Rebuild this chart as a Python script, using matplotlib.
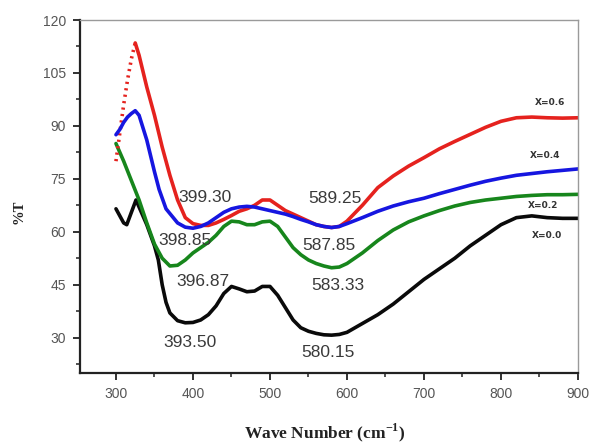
import matplotlib
matplotlib.use("Agg")
import matplotlib.pyplot as plt
from matplotlib.ticker import MultipleLocator

# ---- data ----
red_x = [300, 305, 310, 315, 320, 325, 330, 340, 350, 360, 370, 380, 390, 400, 410, 420, 430, 440, 450,
         460, 470, 480, 490, 500, 510, 520, 530, 540, 550, 560, 570, 580, 590, 600, 620, 640, 660, 680,
         700, 720, 740, 760, 780, 800, 820, 840, 860, 880, 900]
red_y = [80, 88, 96, 103, 109, 113.5, 110, 101, 93, 84, 76, 69, 64, 62.3, 61.8, 61.8, 62.5, 63.5, 64.6,
         65.8, 66.5, 67.5, 69, 69, 67.5, 66, 65, 64, 63, 62, 61.5, 61.2, 61.5, 63, 67.5, 72.5, 75.8, 78.6,
         81, 83.5, 85.6, 87.6, 89.6, 91.3, 92.3, 92.5, 92.3, 92.2, 92.3]

blue_x = [300, 305, 310, 315, 320, 325, 330, 340, 350, 356, 365, 380, 390, 400, 410, 420, 430, 440, 450,
          460, 470, 480, 490, 500, 510, 520, 530, 540, 550, 560, 570, 580, 590, 600, 620, 640, 660, 680,
          700, 720, 740, 760, 780, 800, 820, 840, 860, 880, 900]
blue_y = [87.5, 89, 91, 92.5, 93.5, 94.3, 93, 86, 77, 72, 66.5, 62.5, 61.3, 61, 61.5, 62.5, 64, 65.5, 66.5,
          67, 67.2, 67, 66.5, 66, 65.5, 65, 64.3, 63.5, 62.8, 62, 61.5, 61.2, 61.5, 62.3, 64, 65.8, 67.3,
          68.5, 69.5, 70.8, 72, 73.2, 74.3, 75.2, 76, 76.5, 77, 77.4, 77.8]

green_x = [300, 310, 320, 330, 340, 350, 360, 370, 380, 390, 400, 410, 420, 430, 440, 450, 460, 470, 480,
           490, 500, 510, 520, 530, 540, 550, 560, 570, 580, 590, 600, 620, 640, 660, 680, 700, 720, 740,
           760, 780, 800, 820, 840, 860, 880, 900]
green_y = [85, 80, 74.5, 69, 62.5, 56.5, 52.5, 50.3, 50.5, 52, 54, 55.5, 57, 59, 61.5, 63, 62.8, 62, 62,
           62.8, 63, 61.5, 58.5, 55.5, 53.5, 52, 51, 50.3, 49.8, 50, 51, 54, 57.5, 60.5, 62.8, 64.5, 66,
           67.3, 68.3, 69, 69.5, 70, 70.3, 70.5, 70.5, 70.6]

black_x = [300, 305, 310, 314, 320, 326, 330, 340, 350, 355, 360, 365, 370, 380, 390, 400, 410, 420, 430,
           440, 450, 460, 470, 480, 490, 500, 510, 520, 530, 540, 550, 560, 570, 580, 590, 600, 620, 640,
           660, 680, 700, 720, 740, 760, 780, 800, 820, 840, 860, 880, 900]
black_y = [66.5, 64.5, 62.5, 62, 65.5, 69, 67, 62, 56, 52, 45, 40, 37, 34.8, 34.2, 34.3, 35, 36.5, 39,
           42.5, 44.5, 43.8, 43, 43.2, 44.5, 44.5, 42, 38.5, 35, 32.8, 31.8, 31.2, 30.8, 30.7, 30.9, 31.5,
           34, 36.5, 39.5, 43, 46.5, 49.5, 52.5, 56, 59, 62, 64, 64.5, 64, 63.8, 63.8]

series_labels = ["X=0.0", "X=0.2", "X=0.4", "X=0.6"]
label_pos = [(860, 59), (855, 67.4), (857, 81.5), (864, 96.6)]

peak_texts = ["399.30", "398.85", "396.87", "393.50", "589.25", "587.85", "583.33", "580.15"]
peak_pos = [(415, 69.6), (390, 57.5), (413, 46), (396, 28.5),
            (585, 69.3), (577, 56.1), (588, 44.9), (575, 25.7)]

xticks = [300, 400, 500, 600, 700, 800, 900]
yticks = [30, 45, 60, 75, 90, 105, 120]

# ---- plot ----
fig = plt.figure(figsize=(5.91, 4.45), dpi=100)
ax = fig.add_axes([0.135, 0.162, 0.843, 0.793])

RED, BLUE, GREEN, BLACK = "#e5221e", "#1616e0", "#17861c", "#0a0a0a"
lw = 2.6
ax.plot(black_x, black_y, color=BLACK, lw=lw, solid_capstyle="round")
ax.plot(green_x, green_y, color=GREEN, lw=lw, solid_capstyle="round")
ax.plot(red_x[:6], red_y[:6], color=RED, lw=lw, linestyle=(0, (0.6, 1.2)))
ax.plot(red_x[5:], red_y[5:], color=RED, lw=lw, solid_capstyle="round")
ax.plot(blue_x, blue_y, color=BLUE, lw=lw, solid_capstyle="round")

for (px, py), t in zip(peak_pos, peak_texts):
    ax.text(px, py, t, ha="center", va="center", fontsize=12.5, color="#3a3a3a",
            family="Liberation Sans")

for (px, py), t in zip(label_pos, series_labels):
    ax.text(px, py, t, ha="center", va="center", fontsize=6.5, color="#333333",
            fontweight="bold", family="DejaVu Sans")

ax.set_xlim(253, 900)
ax.set_ylim(20, 120)
ax.set_xticks(xticks)
ax.set_yticks(yticks)
ax.xaxis.set_minor_locator(MultipleLocator(50))
ax.yaxis.set_minor_locator(MultipleLocator(7.5))
ax.tick_params(which="major", direction="out", length=5, width=1.3, color="#222222",
               labelsize=10, labelcolor="#555555", pad=5)
ax.tick_params(which="minor", direction="out", length=3, width=1.1, color="#222222")
ax.tick_params(top=False, right=False, which="both")
for lab in ax.get_xticklabels() + ax.get_yticklabels():
    lab.set_family("Liberation Sans")

ax.spines["left"].set_linewidth(1.6)
ax.spines["bottom"].set_linewidth(1.6)
ax.spines["left"].set_color("#222222")
ax.spines["bottom"].set_color("#222222")
ax.spines["top"].set_color("#9a9a9a")
ax.spines["right"].set_color("#9a9a9a")
ax.spines["top"].set_linewidth(1.0)
ax.spines["right"].set_linewidth(1.0)

fig.text(0.55, 0.027, "Wave Number (cm$^{\\mathregular{-1}}$)", ha="center", va="center",
         fontsize=12.5, fontweight="bold", family="Liberation Serif", color="#222222")
fig.text(0.032, 0.524, "%T", ha="center", va="center", rotation=90,
         fontsize=10.5, fontweight="bold", family="Liberation Serif", color="#222222")

fig.savefig("out.png", dpi=100)
